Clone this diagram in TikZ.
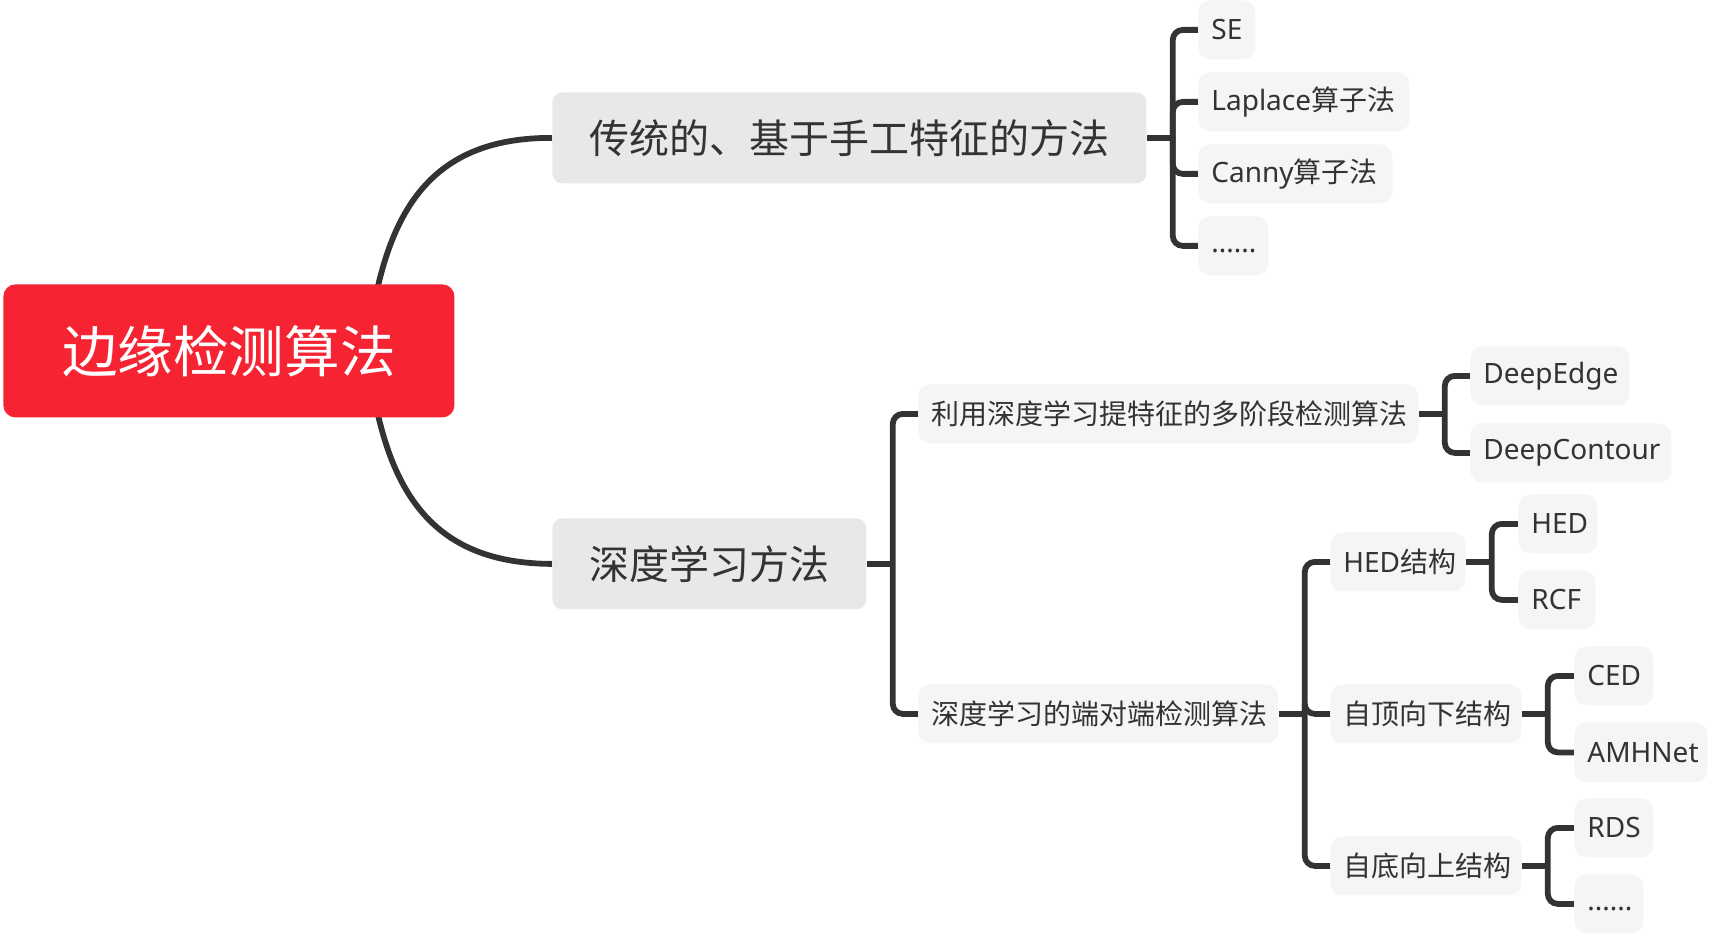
\documentclass[tikz,border=0pt]{standalone}
\usepackage{fontspec}
\setmainfont{Noto Sans}
\newfontfamily\cjkfont{Noto Sans CJK SC}
\newcommand{\zh}[1]{{\cjkfont #1}}
\definecolor{txt}{HTML}{333333}
\definecolor{lnc}{HTML}{333333}
\definecolor{rootred}{HTML}{F62332}
\definecolor{fillA}{HTML}{E8E8E8}
\definecolor{fillB}{HTML}{F5F5F5}
\pgfdeclarelayer{bg}
\pgfsetlayers{bg,main}
\tikzset{
  bx/.style={anchor=north west, inner xsep=6.5pt, inner ysep=0pt, text=txt, align=left},
  rootbox/.style={bx, fill=rootred, text=white, rounded corners=6pt, align=center, font=\fontsize{27.8pt}{32pt}\selectfont},
  topicbox/.style={bx, fill=fillA, rounded corners=5pt, align=center, font=\fontsize{20pt}{23pt}\selectfont},
  subbox/.style={bx, fill=fillB, rounded corners=6pt, font=\fontsize{14pt}{17pt}\selectfont},
  conn/.style={draw=lnc, line width=2.9pt},
  brk/.style={conn, rounded corners=5pt},
}
\newcommand{\bnode}[7]{%
  \pgfmathsetmacro{\bxw}{(#5-#3)*0.5}%
  \pgfmathsetmacro{\bxh}{(#6-#4)*0.5}%
  \pgfmathsetmacro{\bxt}{(#5-#3-26)*0.5}%
  \node[#1, minimum width=\bxw pt, minimum height=\bxh pt, text width=\bxt pt] (#2) at (#3,#4) {#7};}
\begin{document}
\begin{tikzpicture}[x=0.5pt,y=-0.5pt]
\useasboundingbox (0,0) rectangle (1718,936);
% root and topics
\bnode{rootbox}{root}{3}{284}{454}{417}{\zh{边缘检测算法}}
\bnode{topicbox}{trad}{552}{92}{1146}{183}{\zh{传统的、基于手工特征的方法}}
\bnode{topicbox}{deep}{552}{518}{866}{609}{\zh{深度学习方法}}
% traditional leaves
\bnode{subbox}{se}{1198}{0}{1255}{59}{SE}
\bnode{subbox}{lap}{1198}{72}{1409}{131}{Laplace\zh{算子法}}
\bnode{subbox}{can}{1198}{144}{1392}{203}{Canny\zh{算子法}}
\bnode{subbox}{dt}{1198}{216}{1268}{275}{\vphantom{Eg}......}
% deep learning subtopics
\bnode{subbox}{mul}{918}{384}{1418}{443}{\zh{利用深度学习提特征的多阶段检测算法}}
\bnode{subbox}{e2e}{918}{684}{1278}{743}{\zh{深度学习的端对端检测算法}}
\bnode{subbox}{dedge}{1470}{346}{1629}{405}{DeepEdge}
\bnode{subbox}{dcont}{1470}{423}{1671}{482}{DeepContour}
\bnode{subbox}{hedst}{1330}{532}{1465}{591}{HED\zh{结构}}
\bnode{subbox}{topdown}{1330}{684}{1521}{743}{\zh{自顶向下结构}}
\bnode{subbox}{bottomup}{1330}{836}{1521}{895}{\zh{自底向上结构}}
\bnode{subbox}{hed}{1518}{494}{1597}{553}{HED}
\bnode{subbox}{rcf}{1518}{570}{1595}{629}{RCF}
\bnode{subbox}{ced}{1574}{646}{1653}{705}{CED}
\bnode{subbox}{amh}{1574}{722}{1707}{782}{AMHNet}
\bnode{subbox}{rds}{1574}{798}{1653}{857}{RDS}
\bnode{subbox}{dt2}{1574}{874}{1643}{933}{\vphantom{Eg}......}
\begin{pgfonlayer}{bg}
  \coordinate (r1) at (375,300);
  \coordinate (r2) at (375,401);
  \draw[conn] (r1) .. controls (395,200) and (440,137.5) .. (trad.west);
  \draw[conn] (r2) .. controls (395,501) and (440,563.5) .. (deep.west);
  % traditional bracket
  \coordinate (bt) at ([xshift=13pt]trad.east);
  \draw[conn] (trad.east) -- (bt);
  \draw[brk] (bt) |- (se.west);
  \draw[brk] (bt) |- (lap.west);
  \draw[brk] (bt) |- (can.west);
  \draw[brk] (bt) |- (dt.west);
  % deep bracket
  \coordinate (bd) at ([xshift=13pt]deep.east);
  \draw[conn] (deep.east) -- (bd);
  \draw[brk] (bd) |- (mul.west);
  \draw[brk] (bd) |- (e2e.west);
  % multi-stage bracket
  \coordinate (bm) at ([xshift=13pt]mul.east);
  \draw[conn] (mul.east) -- (bm);
  \draw[brk] (bm) |- (dedge.west);
  \draw[brk] (bm) |- (dcont.west);
  % end-to-end bracket
  \coordinate (be) at ([xshift=13pt]e2e.east);
  \draw[conn] (e2e.east) -- (be);
  \draw[brk] (be) |- (hedst.west);
  \draw[brk] (be) |- (topdown.west);
  \draw[brk] (be) |- (bottomup.west);
  % HED structure bracket
  \coordinate (bh) at ([xshift=13pt]hedst.east);
  \draw[conn] (hedst.east) -- (bh);
  \draw[brk] (bh) |- (hed.west);
  \draw[brk] (bh) |- (rcf.west);
  % top-down bracket
  \coordinate (btd) at ([xshift=13pt]topdown.east);
  \draw[conn] (topdown.east) -- (btd);
  \draw[brk] (btd) |- (ced.west);
  \draw[brk] (btd) |- (amh.west);
  % bottom-up bracket
  \coordinate (bbu) at ([xshift=13pt]bottomup.east);
  \draw[conn] (bottomup.east) -- (bbu);
  \draw[brk] (bbu) |- (rds.west);
  \draw[brk] (bbu) |- (dt2.west);
\end{pgfonlayer}
\end{tikzpicture}
\end{document}
